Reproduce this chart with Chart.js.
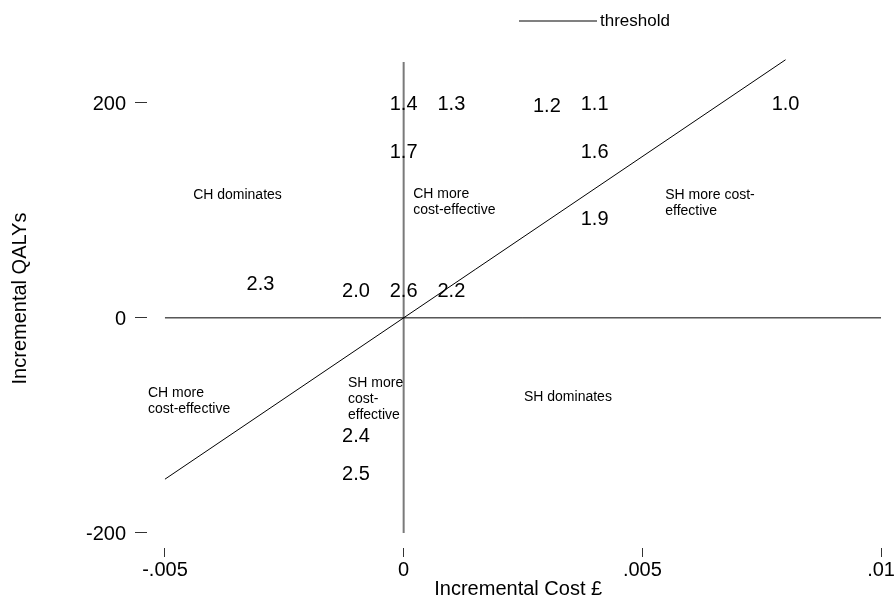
<!DOCTYPE html>
<html>
<head>
<meta charset="utf-8">
<script src="https://cdn.jsdelivr.net/npm/chart.js@4"></script>
<style>
  html, body { margin: 0; padding: 0; background: #fff; }
  #wrap { width: 896px; height: 602px; }
</style>
</head>
<body>
<div id="wrap"><canvas id="plane" width="896" height="602"></canvas></div>
<script>
const FONT = "'Liberation Sans', Arial, Helvetica, sans-serif";

// Labelled results: incremental cost (£) and incremental QALYs
const resultLabels = ['1.0', '1.1', '1.2', '1.3', '1.4', '1.6', '1.7', '1.9', '2.0', '2.2', '2.3', '2.4', '2.5', '2.6'];
const resultCost   = [0.008, 0.004, 0.003, 0.001, 0, 0.004, 0, 0.004, -0.001, 0.001, -0.003, -0.001, -0.001, 0];
const resultQaly   = [200, 200, 198, 200, 200, 156, 156, 93, 26, 26, 33, -108, -144, 26];

// Willingness-to-pay threshold
const thresholdCost = [-0.005, 0.008];
const thresholdQaly = [-150, 240];

// Quadrant axes through the origin
const hAxisCost = [-0.005, 0.01];
const hAxisQaly = [0, 0];
const vAxisCost = [0, 0];
const vAxisQaly = [-200, 238];

// Quadrant notes (left edge, first line)
const regionText = [
  ['CH dominates'],
  ['CH more', 'cost-effective'],
  ['SH more cost-', 'effective'],
  ['CH more', 'cost-effective'],
  ['SH more', 'cost-', 'effective'],
  ['SH dominates']
];
const regionCost = [-0.00441, 0.0002, 0.00548, -0.005356, -0.001166, 0.00252];
const regionQaly = [114, 115, 114, -70, -61, -74];

// Axis ticks
const xTickValues = [-0.005, 0, 0.005, 0.01];
const xTickLabels = ['-.005', '0', '.005', '.01'];
const yTickValues = [-200, 0, 200];
const yTickLabels = ['-200', '0', '200'];

const toPoints = (xs, ys) => xs.map((x, i) => ({ x: x, y: ys[i] }));

const resultLabelPlugin = {
  id: 'resultLabels',
  afterDatasetsDraw(chart) {
    const ctx = chart.ctx;
    const meta = chart.getDatasetMeta(3);
    ctx.save();
    ctx.font = '20px ' + FONT;
    ctx.fillStyle = '#000';
    ctx.textAlign = 'center';
    ctx.textBaseline = 'middle';
    meta.data.forEach((el, i) => ctx.fillText(resultLabels[i], el.x, el.y + 2));
    ctx.restore();
  }
};

const regionNotePlugin = {
  id: 'regionNotes',
  afterDatasetsDraw(chart) {
    const ctx = chart.ctx;
    const xs = chart.scales.x, ys = chart.scales.y;
    ctx.save();
    ctx.font = '14px ' + FONT;
    ctx.fillStyle = '#000';
    ctx.textAlign = 'left';
    ctx.textBaseline = 'middle';
    regionText.forEach((lines, i) => {
      const px = xs.getPixelForValue(regionCost[i]);
      const py = ys.getPixelForValue(regionQaly[i]);
      lines.forEach((t, j) => ctx.fillText(t, px, py + j * 16));
    });
    ctx.restore();
  }
};

const keyPlugin = {
  id: 'thresholdKey',
  afterDraw(chart) {
    const ctx = chart.ctx;
    const ds = chart.data.datasets[0];
    ctx.save();
    ctx.strokeStyle = '#808080';
    ctx.lineWidth = 2;
    ctx.beginPath();
    ctx.moveTo(519, 21);
    ctx.lineTo(597, 21);
    ctx.stroke();
    ctx.font = '17px ' + FONT;
    ctx.fillStyle = '#000';
    ctx.textAlign = 'left';
    ctx.textBaseline = 'middle';
    ctx.fillText(ds.label, 600, 21);
    ctx.restore();
  }
};

new Chart(document.getElementById('plane'), {
  type: 'scatter',
  data: {
    datasets: [
      { label: 'threshold', data: toPoints(thresholdCost, thresholdQaly), showLine: true,
        borderColor: '#000', borderWidth: 1, pointRadius: 0 },
      { label: 'cost axis', data: toPoints(hAxisCost, hAxisQaly), showLine: true,
        borderColor: '#000', borderWidth: 1, pointRadius: 0 },
      { label: 'QALY axis', data: toPoints(vAxisCost, vAxisQaly), showLine: true,
        borderColor: '#7a7a7a', borderWidth: 2, pointRadius: 0 },
      { label: 'results', data: toPoints(resultCost, resultQaly), showLine: false,
        pointRadius: 0 }
    ]
  },
  options: {
    responsive: false,
    animation: false,
    devicePixelRatio: 1,
    layout: { padding: { top: 49, right: 6, bottom: 0, left: 0 } },
    plugins: { legend: { display: false }, tooltip: { enabled: false } },
    scales: {
      x: {
        type: 'linear',
        min: -0.0053763,
        max: 0.010175,
        afterBuildTicks: s => { s.ticks = xTickValues.map(v => ({ value: v })); },
        afterFit: s => { s.height = 54; },
        ticks: {
          callback: (v, i) => xTickLabels[i],
          font: { family: FONT, size: 20 },
          color: '#000',
          padding: 1,
          maxRotation: 0
        },
        grid: { drawOnChartArea: false, drawTicks: true, tickLength: 9, color: '#333' },
        border: { display: false },
        title: { display: true, text: 'Incremental Cost £', color: '#000',
                 font: { family: FONT, size: 20 }, padding: { top: 0, bottom: 1 } }
      },
      y: {
        type: 'linear',
        min: -214,
        max: 250,
        afterBuildTicks: s => { s.ticks = yTickValues.map(v => ({ value: v })); },
        afterFit: s => { s.width = 147; },
        ticks: {
          callback: (v, i) => yTickLabels[i],
          font: { family: FONT, size: 20 },
          color: '#000',
          padding: 9,
          labelOffset: 2
        },
        grid: { drawOnChartArea: false, drawTicks: true, tickLength: 12, color: '#333' },
        border: { display: false },
        title: { display: true, text: 'Incremental QALYs', color: '#000',
                 font: { family: FONT, size: 20 }, padding: { top: 8, bottom: 0 } }
      }
    }
  },
  plugins: [resultLabelPlugin, regionNotePlugin, keyPlugin]
});
</script>
</body>
</html>
